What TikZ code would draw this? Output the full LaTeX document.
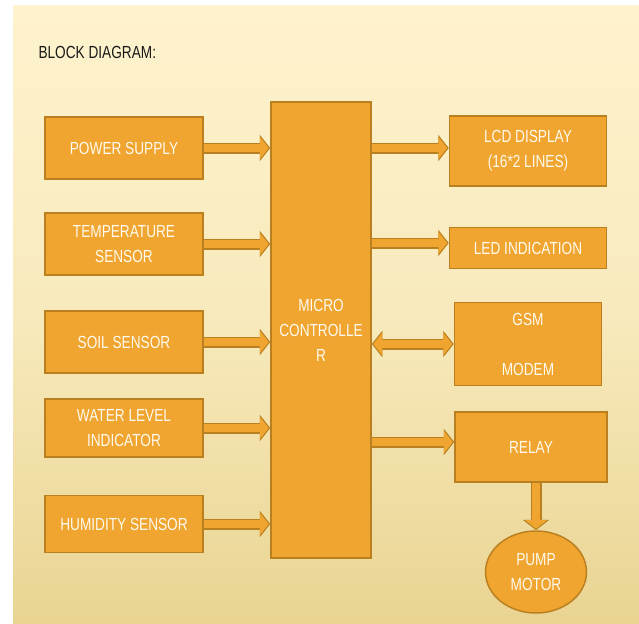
\documentclass[tikz,border=0pt]{standalone}
\usepackage{fontspec}
\setmainfont{Liberation Sans}[FakeStretch=0.78]
\usetikzlibrary{arrows.meta,shapes.geometric}
\definecolor{boxfill}{RGB}{240,165,48}
\definecolor{boxline}{RGB}{186,128,32}
\definecolor{boxtext}{RGB}{255,250,238}
\definecolor{bgtop}{RGB}{254,243,206}
\definecolor{bgbottom}{RGB}{233,212,146}

\begin{document}
\begin{tikzpicture}[x=1pt,y=-1pt,
  blk/.style={draw=boxline,line width=1.5pt,fill=boxfill,text=boxtext,align=center,
    font=\fontsize{17.5}{25}\selectfont,inner sep=0pt},
  fat/.style={line width=8pt,draw=boxfill,-{Triangle[length=9pt,width=22pt]},shorten >=1.5pt,
    preaction={draw=boxline,line width=11pt,-{Triangle[length=10.5pt,width=26pt]},shorten >=0pt}},
  fatboth/.style={line width=8pt,draw=boxfill,{Triangle[length=9pt,width=22pt]}-{Triangle[length=9pt,width=22pt]},
    shorten >=1.5pt,shorten <=1.5pt,
    preaction={draw=boxline,line width=11pt,{Triangle[length=10.5pt,width=26pt]}-{Triangle[length=10.5pt,width=26pt]},
      shorten >=0pt,shorten <=0pt}}]

\useasboundingbox (0,0) rectangle (639,623);
\shade[top color=bgtop,bottom color=bgbottom,middle color=bgtop!70!bgbottom] (13,6) rectangle (639,623);

\node[anchor=west,font=\fontsize{17.5}{20}\selectfont,text=black!90] (title) at (35,52) {BLOCK DIAGRAM:};

\node[blk,minimum width=158pt,minimum height=62pt] (pwr) at (124,148) {POWER SUPPLY};
\node[blk,minimum width=158pt,minimum height=62pt] (temp) at (124,244) {TEMPERATURE\\SENSOR};
\node[blk,minimum width=158pt,minimum height=62pt] (soil) at (124,342) {SOIL SENSOR};
\node[blk,minimum width=158pt,minimum height=58pt] (water) at (124,428) {WATER LEVEL\\INDICATOR};
\node[blk,minimum width=158pt,minimum height=57pt] (hum) at (124,524) {HUMIDITY SENSOR};

\node[blk,minimum width=100pt,minimum height=456pt] (mcu) at (321,330) {MICRO\\CONTROLLE\\R};

\node[blk,minimum width=157pt,minimum height=70pt] (lcd) at (528,151) {LCD DISPLAY\\(16*2 LINES)};
\node[blk,minimum width=157pt,minimum height=41pt] (led) at (528,248) {LED INDICATION};
\node[blk,minimum width=147pt,minimum height=83pt] (gsm) at (528,344) {GSM\\\strut\\MODEM};
\node[blk,minimum width=152pt,minimum height=70pt] (relay) at (531,447) {RELAY};
\node[blk,ellipse,minimum width=101pt,minimum height=82pt] (pump) at (536,572) {PUMP\\MOTOR};

\coordinate (lcdin) at ([yshift=3pt]lcd.west);
\coordinate (ledin) at ([yshift=5pt]led.west);
\coordinate (relayin) at ([yshift=5pt]relay.west);

\draw[fat] (pwr.east) -- (pwr.east -| mcu.west);
\draw[fat] (temp.east) -- (temp.east -| mcu.west);
\draw[fat] (soil.east) -- (soil.east -| mcu.west);
\draw[fat] (water.east) -- (water.east -| mcu.west);
\draw[fat] (hum.east) -- (hum.east -| mcu.west);

\draw[fat] (mcu.east |- lcdin) -- (lcdin);
\draw[fat] (mcu.east |- ledin) -- (ledin);
\draw[fatboth] (mcu.east |- gsm.west) -- (gsm.west);
\draw[fat] (mcu.east |- relayin) -- (relayin);
\draw[fat] (relay.south -| pump.north) -- (pump.north);
\end{tikzpicture}
\end{document}
